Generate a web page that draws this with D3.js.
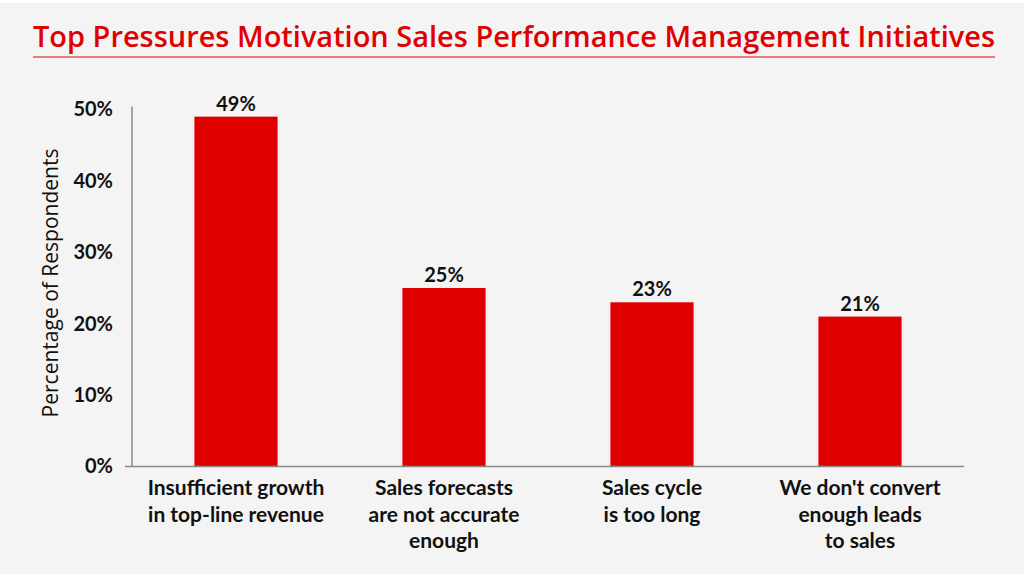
<!DOCTYPE html>
<html><head><meta charset="utf-8">
<script src="https://cdn.jsdelivr.net/npm/d3@7"></script>
<style>
html,body{margin:0;padding:0;background:#fff;}
svg{display:block;}
</style></head>
<body>
<script>
const categories = [
  ["Insufficient growth","in top-line revenue"],
  ["Sales forecasts","are not accurate","enough"],
  ["Sales cycle","is too long"],
  ["We don't convert","enough leads","to sales"]
];
const values = [49, 25, 23, 21];
const valueLabels = ["49%","25%","23%","21%"];
const yTicks = [0,10,20,30,40,50];
const titleText = "Top Pressures Motivation Sales Performance Management Initiatives";
const yTitle = "Percentage of Respondents";

const W = 1024, H = 574;
const svg = d3.select("body").append("svg").attr("width", W).attr("height", H);
svg.append("rect").attr("x",0).attr("y",3).attr("width",W).attr("height",H-3).attr("fill","#f4f4f4");

// title
svg.append("text").attr("x",33).attr("y",47)
  .attr("font-family","Open Sans").attr("font-weight",600).attr("font-size",28)
  .attr("fill","#e00000").attr("textLength",962).attr("lengthAdjust","spacingAndGlyphs")
  .text(titleText);
svg.append("line").attr("x1",33).attr("x2",995).attr("y1",57).attr("y2",57)
  .attr("stroke","#e98080").attr("stroke-width",2);

const x0 = 132, x1 = 964, yTop = 109.5, yBase = 466.5;
const x = d3.scaleBand().domain(d3.range(categories.length)).range([x0, x1]).paddingInner(0.6).paddingOuter(0.3);
const y = d3.scaleLinear().domain([0,50]).range([yBase, yTop]);

// bars
svg.selectAll("rect.bar").data(values).enter().append("rect").attr("class","bar")
  .attr("x",(d,i)=>x(i)).attr("width",x.bandwidth())
  .attr("y",d=>y(d)).attr("height",d=>yBase-y(d))
  .attr("fill","#e00000");

// value labels
svg.selectAll("text.val").data(values).enter().append("text").attr("class","val")
  .attr("x",(d,i)=>x(i)+x.bandwidth()/2).attr("y",d=>y(d)-6)
  .attr("text-anchor","middle").attr("font-family","Lato").attr("font-weight",700)
  .attr("font-size",20).attr("fill","#111").text((d,i)=>valueLabels[i]);

// y axis
const yAxis = d3.axisLeft(y).tickValues(yTicks).tickFormat(d=>d+"%").tickSize(0).tickPadding(19);
const gy = svg.append("g").attr("transform",`translate(${x0},0)`).call(yAxis);
gy.select(".domain").attr("stroke","#888").attr("stroke-width",1.5).attr("d",`M0,${yTop-3}V${yBase}`);
gy.selectAll("text").attr("font-family","Lato").attr("font-weight",700).attr("font-size",20).attr("fill","#111");

// x axis baseline
const xAxis = d3.axisBottom(x).tickSize(0).tickFormat("");
const gx = svg.append("g").attr("transform",`translate(0,${yBase})`).call(xAxis);
gx.select(".domain").attr("stroke","#888").attr("stroke-width",1.5).attr("d",`M${x0-7},0H${x1}`);

// category labels
categories.forEach((lines,i)=>{
  const t = svg.append("text").attr("text-anchor","middle")
    .attr("font-family","Lato").attr("font-weight",700).attr("font-size",21).attr("fill","#111");
  lines.forEach((ln,j)=>{
    t.append("tspan").attr("x",x(i)+x.bandwidth()/2).attr("y",495+j*26.5).text(ln);
  });
});

// y title
svg.append("text").attr("transform","translate(58,283) rotate(-90)")
  .attr("text-anchor","middle").attr("font-family","Open Sans").attr("font-size",21)
  .attr("fill","#111").text(yTitle);
</script>
</body></html>
